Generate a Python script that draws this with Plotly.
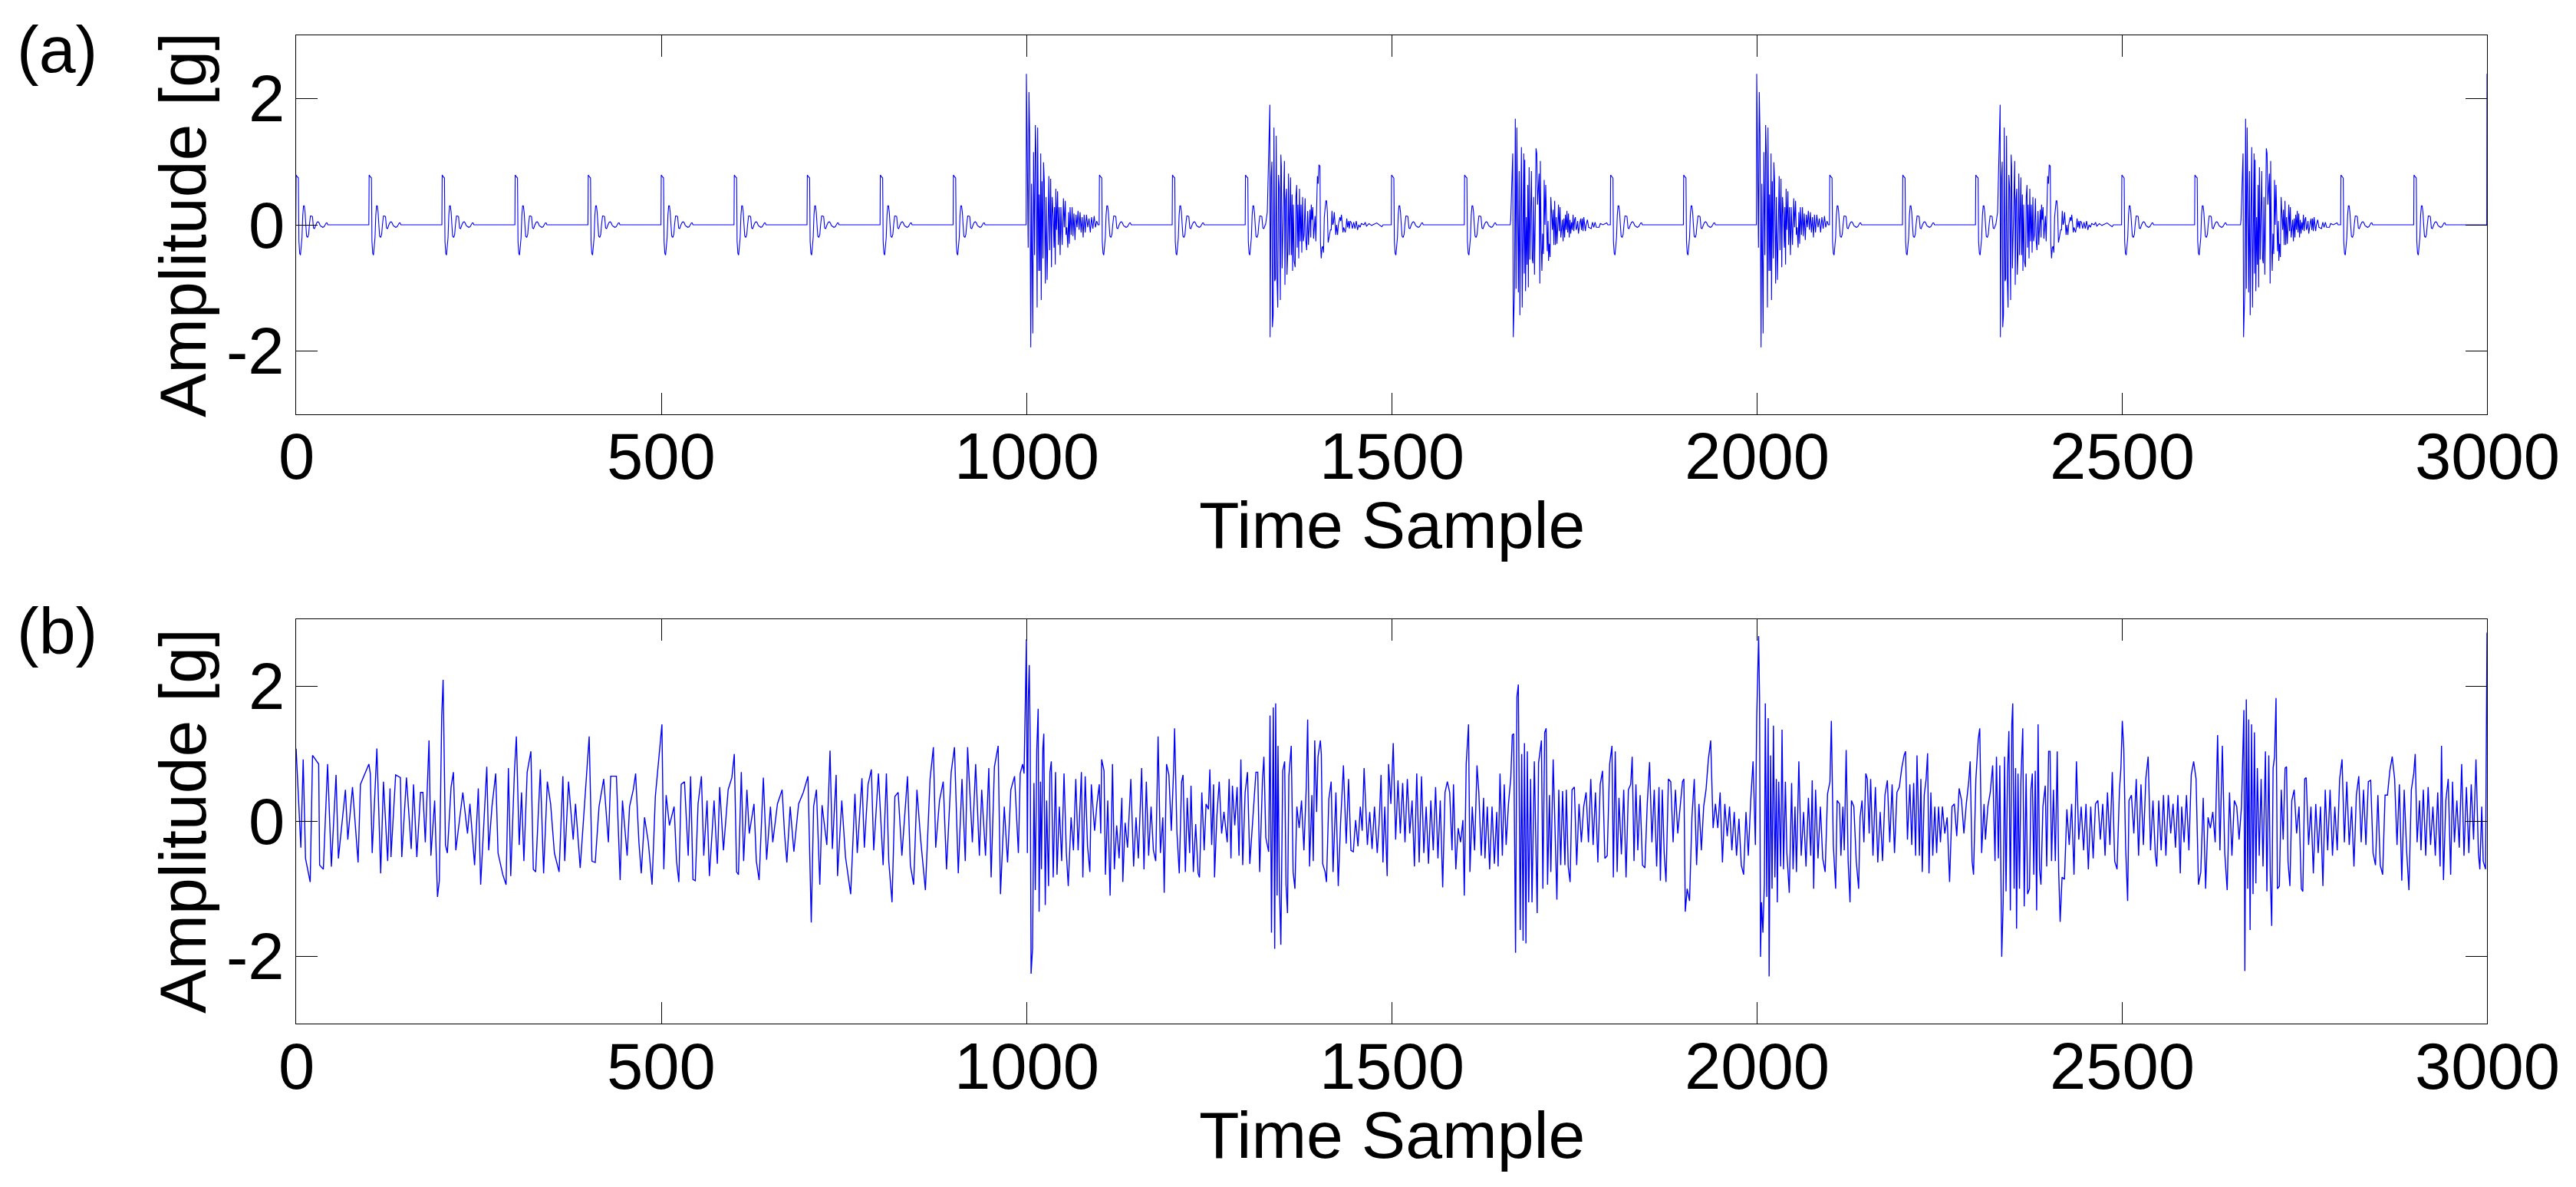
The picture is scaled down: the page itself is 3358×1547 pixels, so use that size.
import plotly.graph_objects as go

# ---------------- Panel (a): clean signal ----------------
# small impulse response (sample offset, amplitude)
impulse = [(-0.4, 0), (0, 0.79), (1.05, 0.77), (2.1, 0.75), (3.15, 0.74), (3.85, -0.26), (4.9, -0.45),
           (5.95, -0.48), (7.0, -0.35), (8.05, -0.2), (9.1, 0.15), (10.15, 0.3), (11.2, 0.3), (12.25, 0.2),
           (13.3, 0.0), (14.35, -0.18), (15.75, -0.2), (17.15, -0.15), (18.2, 0.0), (19.6, 0.14), (21.0, 0.14),
           (22.4, 0.13), (23.8, -0.05), (25.2, -0.06), (27.0, 0.0), (28.7, 0.04), (30.1, 0.05), (31.5, 0.03),
           (32.9, -0.01), (34.7, -0.03), (36.4, -0.04), (38.2, -0.03), (39.9, 0.0), (41.3, 0.03), (42.4, 0.03),
           (43.4, 0.0)]
impulse_times = [0, 100, 200, 300, 400, 500, 600, 700, 800, 900, 1100, 1200, 1300, 1500, 1600,
                 1800, 1900, 2100, 2200, 2300, 2500, 2600, 2800, 2900]

burst_a = [(-0.35, 0), (0, 2.39), (0.7, 1.66), (1.4, 0.28), (2.45, -0.36), (3.5, 2.1), (4.55, 1.41), (5.95, -1.94),
           (7.0, 0.65), (8.75, -1.72), (9.8, 1.15), (11.2, -0.48), (12.25, 1.58), (13.3, 1.09), (14.7, -1.31),
           (15.4, 1.54), (16.8, -0.73), (17.5, 0.48), (18.55, -0.73), (19.6, 1.13), (20.3, -1.19), (21.35, 0.69),
           (22.75, -0.53), (23.45, 0.99), (24.5, 0.69), (25.9, -0.93), (26.95, 0.44), (28.35, -0.87), (30.1, 0.57),
           (30.8, 0.77), (31.85, -0.40), (33.25, 0.73), (34.3, -0.67), (35.35, 0.44), (36.75, 0.12), (37.8, -0.36),
           (38.5, 0.28), (39.55, -0.63), (40.25, 0.57), (41.3, -0.08), (42.7, 0.53), (43.75, -0.32), (44.8, 0.28),
           (46.2, -0.48), (47.25, 0.28), (49.0, -0.32), (50.75, 0.42), (51.8, -0.04), (53.2, 0.38), (54.25, -0.16),
           (55.3, -0.04), (56.7, -0.36), (57.75, 0.2), (58.8, -0.3), (59.85, 0.28), (61.25, -0.16), (62.65, 0.28),
           (63.7, -0.18), (65.1, 0.18), (66.5, -0.24), (67.9, 0.16), (69.3, -0.04), (70.7, 0.22), (72.1, -0.08),
           (73.5, 0.2), (74.9, -0.12), (76.3, 0.12), (77.7, -0.2), (79.1, 0.16), (80.5, -0.12), (82.25, 0.16),
           (84.0, -0.04), (85.75, 0.1), (87.5, -0.12), (89.25, 0.12), (91.0, -0.06), (92.75, 0.14), (94.5, -0.04),
           (96.25, 0.06), (98.0, 0)]

burst_b = [(-5.6, 0.0), (-3.15, 0.2), (-1.75, 0.8), (-0.7, 1.43), (0.35, 1.9), (0.7, -1.78), (2.1, 0.75), (3.15, 1.0),
           (3.85, -1.62), (4.9, -1.43), (5.95, 1.54), (7.0, -0.89), (8.05, -0.85), (9.1, 1.41), (10.15, -0.87),
           (11.2, -1.31), (12.25, 0.79), (13.3, 0.59), (14.0, -1.03), (14.7, -1.19), (15.4, 1.11), (16.1, 0.93),
           (17.15, -0.69), (18.2, -0.06), (19.25, 0.61), (20.3, 1.01), (21.0, -0.95), (22.05, 0.40), (23.1, 0.57),
           (23.8, -0.79), (24.85, -0.44), (25.9, 0.81), (26.95, -0.48), (28.7, 0.75), (29.75, -0.48), (30.8, 0.48),
           (31.5, -0.73), (32.55, 0.32), (33.6, -0.57), (35.0, -0.67), (36.05, 0.44), (37.1, 0.63), (37.8, -0.36),
           (38.85, 0.32), (39.9, -0.53), (40.95, 0.57), (42.0, -0.26), (43.05, 0.32), (44.1, -0.44), (45.15, 0.44),
           (46.2, -0.26), (47.25, -0.16), (48.65, 0.42), (49.7, -0.26), (50.75, -0.40), (52.15, 0.22), (53.2, -0.32),
           (54.25, 0.04), (55.3, 0.24), (56.35, -0.2), (57.05, 0.32), (58.1, 0.08), (59.15, 0.28), (60.2, -0.22),
           (61.25, -0.04), (62.3, 0.14), (63.35, -0.26), (64.4, 0.16), (65.45, 0.77), (66.5, 0.65), (67.55, 0.95),
           (68.95, 0.93), (69.65, -0.28), (70.7, -0.53), (71.75, -0.36), (72.8, -0.34), (73.85, -0.44), (74.9, 0.12),
           (75.95, 0.28), (77.0, 0.38), (78.05, 0.38), (79.1, 0.2), (80.15, -0.28), (81.2, -0.2), (82.25, -0.16),
           (83.3, -0.08), (84.35, -0.08), (85.4, 0.22), (86.45, 0.0), (87.5, 0.04), (88.55, 0.2), (89.6, -0.08),
           (90.65, -0.16), (91.7, 0.0), (93.1, -0.16), (94.15, 0.0), (96.25, 0.12), (97.3, 0.06), (98.35, 0.16),
           (99.4, 0.04), (100.45, -0.12), (101.5, -0.04), (103.6, -0.12), (104.65, -0.04), (105.7, 0.1),
           (106.75, -0.04), (108.15, 0.06), (109.2, -0.06), (110.25, 0.06), (111.65, 0.04), (113.4, -0.06),
           (115.15, 0.04), (116.9, -0.06), (118.65, 0.06), (120.4, -0.08), (122.15, 0.0), (123.9, -0.04),
           (125.65, 0.02), (129.15, 0.0), (130.9, 0.04), (132.65, -0.02), (136.15, 0.02), (139.65, -0.01),
           (146.65, 0.03), (153.65, -0.03), (155.4, 0.0)]

burst_c = [(-4.55, 0.0), (-3.85, 0.08), (-2.8, 0.48), (-1.75, 0.85), (-1.05, 1.13), (-0.35, -1.78), (0.7, -1.25),
           (1.4, -1.01), (2.45, 1.68), (3.5, -1.01), (4.55, 1.54), (5.6, -0.36), (6.65, -1.07), (7.7, 0.85),
           (8.75, -1.43), (9.8, 0.18), (10.85, 1.23), (11.9, -1.31), (12.95, 0.40), (14.0, 1.13), (14.7, -0.77),
           (15.4, 1.03), (16.45, -1.05), (17.5, 0.12), (18.55, -0.63), (19.6, 0.63), (20.3, -0.99), (21.35, 0.91),
           (22.4, -0.55), (23.45, 0.57), (24.5, 0.85), (25.55, -0.53), (26.6, -0.61), (27.65, 0.44), (28.7, -0.79),
           (29.75, 0.08), (30.8, 1.21), (31.85, 1.13), (32.9, 0.32), (33.95, 0.57), (35.0, 0.81), (36.05, -0.93),
           (36.75, 1.01), (37.8, -0.24), (38.85, -0.73), (39.9, -0.14), (40.95, -0.46), (42.0, 0.71), (43.05, 0.0),
           (44.1, 0.63), (45.15, -0.16), (46.2, -0.42), (47.25, 0.06), (47.95, -0.57), (49.0, -0.3), (50.05, -0.51),
           (51.1, 0.44), (52.15, 0.22), (53.2, -0.08), (54.25, 0.24), (55.3, -0.32), (56.35, 0.38), (57.4, -0.32),
           (58.45, 0.12), (59.5, -0.3), (60.55, -0.04), (61.6, 0.32), (62.65, -0.1), (63.7, 0.28), (64.75, -0.2),
           (65.8, -0.04), (66.85, 0.08), (67.9, -0.26), (68.95, 0.1), (70.0, -0.2), (71.05, 0.16), (72.1, -0.08),
           (73.15, 0.22), (74.2, -0.12), (75.25, 0.18), (76.3, -0.2), (77.35, 0.08), (78.4, -0.14), (79.45, 0.04),
           (80.5, -0.08), (81.55, 0.16), (82.6, -0.1), (83.65, 0.08), (84.7, 0.12), (85.75, -0.08), (86.8, -0.04),
           (87.85, 0.06), (88.9, -0.14), (89.95, 0.0), (91.0, 0.04), (92.05, 0.1), (93.1, -0.08), (94.15, 0.1),
           (95.2, -0.1), (96.25, 0.12), (97.3, -0.04), (98.35, -0.1), (99.4, 0.0), (101.15, 0.08), (102.9, -0.04),
           (106.4, -0.06), (108.15, 0.04), (109.9, -0.04), (111.65, 0.04), (113.4, -0.04), (117.15, -0.04),
           (118.9, 0.02), (122.4, 0.0), (127.65, 0.03), (129.15, 0.0)]

burst_a_times = [1000, 2000, 3000]
burst_b_times = [1333, 2333]
burst_c_times = [1667, 2667]

# ---------------- Panel (b): noisy signal (sample, amplitude) ----------------
noisy = [
    (0, 1.08), (6.5, -0.39), (9.7, 0.92), (12.9, -0.55), (19.3, -0.90), (22.5, 0.98), (30.9, 0.85), (32.2, -0.65),
    (37.3, -0.71), (43.1, 0.85), (48.3, -0.67), (54.7, 0.69), (57.9, -0.55), (67.5, 0.47), (70.8, -0.27),
    (77.2, 0.51), (84.9, -0.61), (88.1, 0.55), (99.7, 0.85), (101.6, 0.71), (104.2, -0.47), (110.6, 1.08),
    (115.8, -0.77), (119.6, 0.59), (125.4, -0.59), (128.6, 0.49), (129.9, -0.53), (136.3, 0.69), (142.8, 0.65),
    (144.7, -0.53), (151.1, 0.65), (157.6, -0.41), (160.8, 0.55), (165.3, -0.53), (170.4, 0.43), (173.6, 0.43),
    (176.9, -0.31), (182, 1.2), (184.6, -0.51), (189.7, 0.31), (193.6, -1.12), (196.1, -0.88), (199.4, 1.57),
    (201.3, 2.1), (204.5, -0.35), (207.1, -0.47), (212.2, 0.51), (215.4, 0.73), (218.7, -0.43), (228.3, 0.43),
    (234.7, -0.18), (238, 0.26), (244.4, -0.65), (249.5, 0.49), (252.7, -0.94), (257.2, 0.06), (261.1, 0.81),
    (263.7, -0.43), (268.2, 0.22), (273.3, 0.71), (276.5, -0.47), (283, -0.79), (287.5, -0.94), (290.7, 0.79),
    (293.9, -0.81), (299, 0.75), (301.6, 1.26), (305.5, -0.35), (308.7, 0.43), (311.9, -0.59), (316.4, 0.73),
    (321.5, 1.04), (324.8, -0.71), (328, -0.75), (334.4, 0.77), (338.9, -0.77), (344, 0.59), (348.5, 0.26),
    (353.7, -0.47), (360.1, -0.75), (365.3, 0.67), (367.8, -0.59), (373, 0.59), (379.4, -0.27), (382.6, 0.26),
    (389, -0.69), (395.5, 0.39), (401.3, 1.26), (405.1, -0.59), (409.6, -0.61), (414.8, 0.22), (421.2, 0.63),
    (427.6, -0.31), (430.8, 0.67), (438.6, 0.67), (443.7, -0.87), (446.9, 0.31), (453.3, -0.51), (456.6, 0.22),
    (461.7, 0.47), (464.9, 0.71), (469.4, -0.31), (472.6, -0.77), (477.1, 0.06), (482.3, -0.31), (487.4, -0.94),
    (491.9, 0.37), (495.1, 0.71), (498.4, 1.14), (500.9, 1.44), (503.5, -0.71), (506.7, 0.39), (511.2, -0.06),
    (517.6, 0.22), (520.9, -0.59), (524.1, -0.90), (527.3, 0.55), (531.8, 0.59), (536.9, -0.51), (540.2, 0.67),
    (543.4, -0.86), (546.6, -0.88), (550.4, 0.26), (555, 0.67), (558.2, -0.51), (562.7, 0.31), (565.9, -0.81),
    (572.3, 0.31), (576.8, -0.63), (580, 0.51), (585.2, -0.43), (591.6, 0.47), (596.7, 0.65), (600, 1.0),
    (603.2, -0.75), (605.7, -0.79), (609.6, 0.73), (612.8, -0.59), (617.3, 0.47), (620.5, -0.18), (627, 0.26),
    (630.2, -0.59), (634, -0.87), (639.8, 0.65), (644.3, -0.57), (649.5, 0.22), (652.7, -0.31), (659.1, 0.26),
    (665.5, 0.47), (668.8, -0.18), (672, -0.61), (676.5, 0.22), (681.6, -0.45), (688.1, 0.26), (694.5, 0.43),
    (700.9, 0.67), (703.5, -0.71), (705.4, -1.5), (708.6, 0.22), (712.5, 0.47), (717.1, -0.94), (720.2, 0.24),
    (726.7, -0.35), (731.1, 1.05), (734.3, -0.41), (739.5, 0.69), (741.4, -0.81), (747.2, 0.31), (752.3, -0.53),
    (759.4, -1.08), (765.2, 0.41), (768.4, -0.47), (774.8, 0.64), (778.1, -0.39), (783.2, 0.55), (787.7, 0.77),
    (790.9, -0.43), (797.4, 0.71), (803.8, -0.65), (808.3, 0.71), (811.5, -0.59), (816, -1.2), (819.9, 0.37),
    (824.4, 0.43), (829.5, -0.51), (837.2, 0.67), (841.1, -0.65), (845.6, -0.94), (850.1, 0.47), (855.2, -0.27),
    (861.7, -1.02), (868.1, 0.63), (872.6, 1.1), (875.8, -0.39), (881, 0.31), (886.1, 0.59), (890.6, -0.71),
    (897, 0.73), (901.5, 1.1), (906.7, -0.77), (911.8, 0.63), (916.3, -0.59), (919.5, 1.1), (926, -0.31),
    (930.5, 0.85), (935.6, -0.51), (938.8, 0.47), (944, -0.51), (948.5, 0.79), (951.7, -0.83), (956.2, 0.81),
    (961.3, 1.12), (964.5, -1.08), (969.7, 0.22), (974.2, -0.61), (978.7, 0.47), (983.8, 0.67), (989, -0.47),
    (991.5, 0.71), (994.8, 0.85), (996.8, 0.71),
    (1000, 2.7), (1001.3, -0.47), (1002.6, 1.81), (1003.9, 2.32), (1005.2, 1.2), (1006.4, -2.26), (1008.4, -1.89),
    (1010.3, 0.57), (1012.2, -1.02), (1014.2, 1.06), (1016.1, 1.67), (1017.4, -1.34), (1019.3, 0.59),
    (1020.6, -0.71), (1022.5, 1.08), (1023.8, 1.3), (1025.8, -1.24), (1027.7, 0.31), (1030.3, -0.96),
    (1032.2, 0.73), (1034.1, 0.89), (1036.7, -0.83), (1039.9, 0.73), (1041.9, -0.79), (1045.1, 0.22),
    (1048.3, -0.59), (1051.5, 0.71), (1054.7, -0.47), (1057.3, -0.96), (1061.2, 0.06), (1064.4, -0.43),
    (1067.6, 0.63), (1070.8, -0.43), (1075.3, 0.73), (1077.3, -0.83), (1080.5, 0.67), (1083.7, -0.37),
    (1086.9, -0.75), (1088.9, 0.55), (1093.4, -0.14), (1096.6, 0.26), (1099.8, 0.55), (1101.8, -0.18),
    (1103, 0.92), (1106.3, 0.75), (1108.2, -0.79), (1111.4, 0.31), (1114.6, -1.1), (1117.9, 0.85),
    (1120.4, -0.71), (1123.6, -0.06), (1126.9, -0.55), (1130.7, 0.35), (1132, -0.9), (1135.2, -0.02),
    (1138.5, -0.39), (1143, 0.63), (1146.8, -0.67), (1150.1, 0.06), (1153.3, -0.55), (1157.8, 0.79),
    (1161, -0.71), (1164.2, 0.59), (1167.4, -0.51), (1170.7, 0.22), (1173.9, -0.43), (1177.1, -0.59),
    (1180.3, 1.26), (1183.5, -0.47), (1186.8, 0.06), (1188.7, -1.06), (1191.9, 0.85), (1195.1, 0.69),
    (1198.4, -0.14), (1201.6, 0.77), (1202.9, 1.38), (1206.1, -0.16), (1209.3, -0.77), (1212.5, 0.59),
    (1214.5, 0.69), (1217.7, -0.75), (1220.2, 0.35), (1223.5, -0.47), (1225.4, 0.53), (1228.6, -0.75),
    (1231.8, -0.04), (1235.1, -0.77), (1237, -0.83), (1240.2, 0.43), (1243.4, -0.43), (1246, 0.26),
    (1249.2, 0.18), (1251.2, 0.77), (1253.7, -0.35), (1256.3, 0.55), (1257.6, -0.83), (1260.8, 0.08),
    (1264, 0.59), (1267.3, -0.18), (1270.5, 0.14), (1275, -0.31), (1277.6, 0.63), (1280.1, -0.55),
    (1282.1, 0.53), (1285.3, -0.06), (1288.5, 0.51), (1291.1, -0.51), (1293.7, 0.92), (1296.2, -0.65),
    (1299.5, 0.43), (1302.7, 0.73), (1305.9, -0.63), (1309.1, -0.14), (1312.3, 0.43), (1314.3, 0.73),
    (1316.8, 0.73), (1319.4, -0.75), (1323.3, 0.63), (1325.2, 0.96), (1327.8, -0.24), (1331.7, -0.45),
    (1333.6, 1.57), (1335.6, -1.65), (1338.1, 1.69), (1340, -1.89), (1341.3, 1.75), (1343.3, -1.1),
    (1344.5, 1.12), (1346.5, -1.0), (1348.4, -1.83), (1351, 0.75), (1353.6, 0.89), (1355.5, -0.94),
    (1357.5, -1.36), (1359.4, 0.67), (1362.6, 1.12), (1365.2, -0.75), (1367.7, -1.0), (1370.3, 0.22),
    (1373.5, -0.1), (1376.7, 0.31), (1380, -0.43), (1383.2, 0.51), (1385.1, 1.51), (1387.7, -0.67),
    (1390.9, 0.39), (1392.8, -0.59), (1394.8, 1.2), (1397.4, 0.14), (1399.3, 0.96), (1402.5, 1.2),
    (1403.8, 1.0), (1405.7, -0.63), (1409, -0.75), (1410.9, -0.9), (1414.1, 0.33), (1417.3, 0.59),
    (1419.9, -0.75), (1423.8, 0.43), (1427, -0.96), (1430.2, -0.02), (1434.1, 0.83), (1437.9, -0.33),
    (1441.1, 0.63), (1444.4, -0.43), (1447.6, -0.45), (1450.8, 0.02), (1454, -0.37), (1457.2, 0.22),
    (1459.8, -0.14), (1462.4, 0.79), (1466.9, -0.35), (1470.1, 0.14), (1473.3, -0.41), (1476.6, 0.22),
    (1480.4, -0.47), (1483, -0.02), (1485.6, 0.69), (1488.2, -0.61), (1490.7, 0.22), (1494, -0.81),
    (1495.9, 0.85), (1499.1, 0.26), (1502.3, 1.16), (1505.6, -0.27), (1508.8, 0.61), (1512, -0.18),
    (1515.2, 0.57), (1518.4, -0.31), (1521.6, 0.63), (1524.9, -0.18), (1528.1, 0.31), (1531.3, -0.67),
    (1534.5, 0.71), (1537.8, -0.61), (1541, 0.67), (1544.2, -0.47), (1547.4, 0.22), (1550.6, -0.63),
    (1553.8, 0.31), (1557.1, -0.43), (1560.3, 0.51), (1563.5, -0.55), (1566.7, 0.31), (1570, -0.98),
    (1573.2, 0.43), (1576.4, 0.59), (1579.6, 0.43), (1582.8, -0.43), (1584.8, 0.55), (1588, -0.71),
    (1591.2, -0.1), (1594.5, -0.31), (1597.7, 0.02), (1599.6, -1.1), (1602.2, 0.85), (1604.1, 1.2),
    (1605.4, 1.44), (1607.3, -0.75), (1610.5, 0.22), (1613.7, -0.43), (1617, 0.83), (1619.5, 0.43),
    (1622.8, -0.51), (1626, 0.35), (1627.9, -0.55), (1631.1, 0.22), (1634.3, -0.71), (1637.6, 0.22),
    (1640.8, -0.63), (1644, 0.14), (1645.9, -0.67), (1648.5, 0.71), (1651.7, -0.51), (1654.3, 0.55),
    (1656.9, -0.35), (1660.1, 0.26), (1663.3, 0.65), (1665.3, 1.28), (1667.2, 1.3), (1669.8, -1.95),
    (1671.7, 1.85), (1673.6, 2.03), (1676.2, -1.61), (1678.2, 1.0), (1680.1, -1.77), (1682, 1.16),
    (1684, -1.81), (1685.9, 1.04), (1687.8, -1.2), (1690.4, 0.63), (1692.3, -1.2), (1695.5, 0.89),
    (1697.5, -0.51), (1699.4, -1.36), (1701.3, 0.87), (1703.3, 1.02), (1705.2, 1.2), (1707.2, -1.0),
    (1709.7, 1.32), (1711.7, 1.38), (1713.6, -0.94), (1716.2, 0.39), (1718.1, -0.75), (1721.3, 0.92),
    (1724.5, -0.51), (1726.4, -1.16), (1729, 0.47), (1731.6, -0.65), (1734.2, 0.45), (1737.4, -0.65),
    (1739.3, 0.47), (1741.9, -0.67), (1744.5, -0.9), (1747.1, 0.47), (1750.3, 0.51), (1753.5, -0.65),
    (1756.7, 0.26), (1759.9, -0.31), (1763.1, 0.22), (1766.4, 0.43), (1769.6, -0.31), (1772.8, 0.63),
    (1776, -0.35), (1779.2, 0.43), (1782.5, -0.61), (1785.7, 0.55), (1788.9, 0.75), (1792.1, -0.55),
    (1795.3, -0.51), (1798.6, 0.85), (1801.8, 1.12), (1803.7, -0.83), (1806.3, 1.04), (1808.9, -0.75),
    (1811.4, 0.35), (1814.7, -0.49), (1817.9, 0.47), (1821.1, -0.83), (1824.3, 0.47), (1827.5, 0.55),
    (1829.5, 0.96), (1832, -0.59), (1834.6, 0.55), (1837.2, -0.43), (1840.4, 0.39), (1843.6, -0.65),
    (1846.9, -0.69), (1850.1, 0.26), (1853.3, 0.88), (1856.5, -0.31), (1859.7, 0.47), (1863, -0.67),
    (1866.2, 0.51), (1868.1, -0.88), (1870.7, 0.47), (1873.3, -0.47), (1875.8, -0.9), (1879.1, 0.63),
    (1882.3, 0.59), (1885.5, -0.31), (1888.7, 0.47), (1891.9, -0.18), (1895.2, 0.22), (1898.4, 0.59),
    (1900.3, 0.63), (1902.2, -1.34), (1904.8, -1.0), (1908, -1.18), (1911.3, 0.06), (1914.5, 0.63),
    (1917.7, -0.65), (1920.9, 0.26), (1924.2, -0.43), (1927.4, 0.22), (1930.6, 0.47), (1933.8, 0.92),
    (1937, 1.2), (1940.3, -0.1), (1943.5, 0.26), (1946.7, -0.1), (1949.9, 0.43), (1953.1, -0.61),
    (1956.3, 0.26), (1959.6, -0.22), (1962.8, 0.22), (1966, -0.43), (1969.2, 0.14), (1972.4, -0.51),
    (1975.7, 0.04), (1978.9, -0.65), (1982.1, -0.79), (1985.3, 0.14), (1988.5, -0.51), (1991.8, 0.31),
    (1995, 0.89), (1998.2, -0.35),
    (2000, 1.53), (2001.3, 2.14), (2002.6, 2.75), (2003.9, 1.85), (2005.2, -2.01), (2006.6, -1.2), (2008.5, -1.65),
    (2010.5, -0.92), (2011.8, 1.75), (2013.8, -1.12), (2015.7, 1.53), (2017, -2.3), (2019, 0.98), (2021, -1.0),
    (2022.9, 1.42), (2024.9, -0.83), (2026.9, 0.63), (2028.2, -1.2), (2030.1, 0.59), (2032.8, -0.67),
    (2034.7, 1.36), (2036.7, -0.71), (2039.3, 0.59), (2041.3, -0.47), (2044.6, -1.06), (2047.8, 0.57),
    (2049.8, -0.71), (2052.4, 0.22), (2054.4, -0.75), (2057.7, 0.89), (2060.9, -0.51), (2064.2, 0.14),
    (2067.5, -0.67), (2070.8, 0.35), (2074, -0.51), (2076, 0.61), (2078, -1.0), (2080.6, 0.47), (2083.9, -0.55),
    (2087.2, 0.22), (2090.4, -0.55), (2093.7, -0.75), (2097, 0.41), (2100.3, 0.59), (2102.2, 1.49),
    (2104.9, -0.35), (2108.1, -1.0), (2110.1, 0.31), (2113.4, 0.26), (2115.3, -0.51), (2118, 0.22),
    (2119.9, -0.43), (2122.5, 1.06), (2125.2, -0.59), (2127.8, -1.2), (2129.7, 0.31), (2133, 0.22),
    (2136.3, -0.59), (2139.6, -1.0), (2141.5, 0.06), (2144.2, 0.31), (2146.8, -0.31), (2149.4, 0.71),
    (2151.4, 0.63), (2154, -0.18), (2156, 0.63), (2159.2, -0.51), (2162.5, 0.51), (2165.8, -0.61),
    (2169.1, 0.14), (2172.3, -0.59), (2175.6, 0.39), (2178.9, 0.61), (2182.2, -0.31), (2185.4, 0.55),
    (2188.7, -0.47), (2192, 0.43), (2195.3, 0.51), (2198.6, 0.79), (2201.8, 0.98), (2203.8, 1.04),
    (2206.4, -0.27), (2209.7, 0.55), (2212.3, -0.35), (2214.9, 0.57), (2217.6, -0.51), (2219.5, 0.98),
    (2222.8, -0.51), (2224.8, 0.63), (2226.7, -0.75), (2229.4, 0.39), (2232, 0.63), (2234, 1.01),
    (2235.9, -0.77), (2238.5, 0.43), (2241.1, -0.51), (2243.8, 0.22), (2246.4, -0.47), (2249, 0.22),
    (2251.6, -0.31), (2254.3, 0.22), (2257.5, -0.18), (2260.8, 0.06), (2264.1, -0.9), (2267.4, 0.22),
    (2270.6, 0.26), (2273.9, -0.22), (2277.2, 0.49), (2280.5, 0.31), (2283.7, -0.18), (2287, 0.26),
    (2290.3, 0.59), (2292.3, 0.89), (2294.9, -0.59), (2296.9, -0.79), (2300.1, 0.63), (2303.4, 1.22),
    (2305.4, 1.38), (2308, -0.47), (2311.3, 0.26), (2313.2, -0.27), (2316.5, 0.22), (2319.8, 0.43),
    (2323.1, 0.83), (2326.3, -0.59), (2328.3, 0.96), (2330.9, -0.55), (2332.9, 0.83), (2335.5, -2.01),
    (2337.5, -1.2), (2339.4, 0.96), (2341.4, -1.04), (2343.4, 0.71), (2345.3, 1.34), (2347.3, -1.32),
    (2349.3, 1.44), (2350.6, 1.75), (2352.5, -1.0), (2354.5, 0.79), (2355.8, -1.59), (2357.8, 0.71),
    (2359.8, -1.0), (2361.7, 0.59), (2364.3, 1.38), (2366.3, -1.26), (2368.9, 0.71), (2370.9, -1.08),
    (2373.5, -1.0), (2375.5, 0.47), (2377.4, 0.71), (2379.4, -0.79), (2381.4, 0.75), (2383.3, -1.32),
    (2385.3, 1.44), (2387.3, -0.71), (2389.2, -0.94), (2391.9, 0.22), (2395.1, 0.53), (2397.1, -0.67),
    (2399.7, 1.04), (2401.7, 1.04), (2403.7, -0.59), (2406.3, 0.47), (2408.9, -0.59), (2411.5, 1.04),
    (2413.5, -0.75), (2415.5, -1.49), (2418.1, -0.83), (2421.4, -0.86), (2424.7, 0.18), (2427.9, -0.35),
    (2431.2, 0.26), (2434.5, -0.79), (2437.8, 0.89), (2441, -0.27), (2444.3, 0.22), (2447.6, -0.43),
    (2450.9, 0.26), (2454.1, -0.71), (2457.4, 0.22), (2460.7, -0.55), (2463.9, 0.26), (2467.2, 0.31),
    (2470.5, -0.27), (2473.8, 0.26), (2477, -0.51), (2480.3, 0.43), (2483.6, -0.35), (2486.9, 0.73),
    (2490.2, -0.59), (2493.4, -0.71), (2496.7, 0.47), (2498.7, 0.79), (2500.6, 1.49), (2502.6, 1.08),
    (2505.2, -0.39), (2507.9, -1.18), (2509.8, 0.31), (2513.1, 0.39), (2516.4, -0.18), (2519.7, 0.63),
    (2522.9, -0.51), (2526.2, 0.55), (2529.5, -0.35), (2532.8, 0.63), (2536, 0.96), (2539.3, -0.43),
    (2542.6, 0.31), (2545.9, -0.51), (2547.8, -0.67), (2550.5, 0.31), (2553.8, -0.43), (2557, 0.39),
    (2560.3, -0.51), (2563.6, 0.39), (2566.9, -0.18), (2570.1, 0.26), (2573.4, -0.39), (2576.7, 0.39),
    (2580, -0.77), (2581.9, 0.22), (2585.2, -0.31), (2588.5, 0.39), (2591.8, -0.43), (2595, 0.69),
    (2598.3, 0.89), (2601.6, 0.63), (2604.9, -0.94), (2608.1, -0.75), (2611.4, 0.35), (2614.7, -1.0),
    (2618, 0.06), (2621.2, -0.1), (2624.5, 0.14), (2627.8, -0.31), (2631.1, 1.28), (2634.3, -0.43),
    (2637.6, 1.12), (2640.9, -0.47), (2644.2, -1.02), (2647.4, 0.43), (2650.7, -0.51), (2654, 0.31),
    (2657.3, 0.22), (2660.5, -0.27), (2663.8, 0.22), (2665.8, 1.08), (2667.1, 1.65), (2668.4, -2.22),
    (2670.4, 1.81), (2672.4, -1.0), (2673.7, 1.51), (2675.6, -1.61), (2677.6, 1.44), (2679.6, -1.08),
    (2681.5, 1.32), (2683.5, -0.92), (2685.5, 0.79), (2688.1, -0.51), (2690.7, 0.63), (2693.3, -0.67),
    (2696.6, 1.04), (2698.6, -1.04), (2701.2, 0.98), (2703.2, -0.79), (2705.2, -1.55), (2707.1, 0.79),
    (2709.1, 0.96), (2711.1, 1.83), (2713, -1.0), (2715.7, -0.96), (2718.3, 0.47), (2720.9, -0.27),
    (2723.5, 0.79), (2725.5, 0.81), (2727.5, -0.59), (2730.1, -0.96), (2732.7, 0.31), (2736, 0.47),
    (2739.3, -0.18), (2742.6, 0.22), (2745.8, -1.0), (2747.8, -1.04), (2750.4, 0.63), (2752.4, 0.65),
    (2755.7, -0.35), (2758.9, 0.22), (2762.2, -0.77), (2765.5, 0.26), (2768.8, -0.47), (2772, 0.22),
    (2775.3, -0.96), (2778.5, 0.47), (2781.8, -0.43), (2785.1, 0.47), (2788.4, -0.51), (2791.6, 0.22),
    (2794.9, -0.43), (2798.2, 0.63), (2801.5, 0.92), (2804.7, -0.31), (2808, 0.59), (2811.3, -0.35),
    (2814.6, 0.22), (2817.8, -0.67), (2821.1, 0.39), (2824.4, 0.67), (2827.7, -0.31), (2830.9, 0.47),
    (2834.2, -0.35), (2837.5, 0.59), (2840.7, 0.61), (2844, -0.47), (2847.3, -0.65), (2850.6, 0.39),
    (2853.8, -0.65), (2857.1, -0.79), (2860.4, 0.39), (2863.7, 0.39), (2866.9, 0.75), (2870.2, 0.96),
    (2873.5, 0.63), (2876.8, -0.35), (2880, 0.55), (2883.3, -0.88), (2886.6, 0.47), (2889.9, -0.43),
    (2893.1, -1.02), (2896.4, 0.47), (2899.7, 0.71), (2901.7, 1.0), (2904.3, -0.31), (2907.6, 0.31),
    (2909.6, -0.43), (2912.8, 0.47), (2916.1, -0.51), (2919.4, 0.51), (2922.7, -0.35), (2925.9, 0.22),
    (2929.2, -0.51), (2932.5, 0.43), (2935.8, -0.67), (2937.7, 1.12), (2940.4, -0.87), (2943.6, 0.31),
    (2946.9, 0.63), (2950.2, -0.79), (2952.8, 0.59), (2955.4, -0.31), (2958.7, 0.31), (2962, -0.39),
    (2965.3, 0.85), (2968.5, -0.51), (2971.8, 0.51), (2975.1, -0.47), (2978.4, 0.55), (2981.6, -0.27),
    (2984.9, 0.92), (2988.2, -0.47), (2990.2, -0.71), (2992.8, 0.22), (2994.8, -0.59), (2998, -0.71),
    (3000, 2.8),
]

x_ticks = [0, 500, 1000, 1500, 2000, 2500, 3000]
y_ticks = [-2, 0, 2]
y_tick_text = ["-2", "0", "2"]
x_title = "Time Sample"
y_title = "Amplitude [g]"
panel_labels = ["(a)", "(b)"]


def build_clean():
    bursts = []
    for tpl, times in ((burst_a, burst_a_times), (burst_b, burst_b_times), (burst_c, burst_c_times)):
        for t0 in times:
            bursts.append([(t0 + o, v) for o, v in tpl])
    spans = [(b[0][0], b[-1][0]) for b in bursts]
    pts = []
    for b in bursts:
        pts.extend(b)
    for t0 in impulse_times:
        for o, v in impulse:
            t = t0 + o
            if any(s <= t <= e for s, e in spans):
                continue
            pts.append((t, v))
    pts.sort()
    return [p[0] for p in pts], [p[1] for p in pts]


ax_t, ax_v = build_clean()
bx_t = [p[0] for p in noisy]
bx_v = [p[1] for p in noisy]

FONT = "Liberation Sans, Arial, Helvetica, sans-serif"
BLUE = "#0000ff"
W, H = 3358, 1547
L, R, T, B = 386, 116, 46, 213
PH = H - T - B
PW = W - L - R
TICK_SIZE = 85
TITLE_SIZE = 86


def py(y_px):
    return (H - B - y_px) / PH


def px(x_px):
    return (x_px - L) / PW


fig = go.Figure()
fig.add_trace(go.Scatter(x=ax_t, y=ax_v, mode="lines", line=dict(color=BLUE, width=1.1),
                         xaxis="x", yaxis="y", showlegend=False, hoverinfo="skip"))
fig.add_trace(go.Scatter(x=bx_t, y=bx_v, mode="lines", line=dict(color=BLUE, width=1.4),
                         xaxis="x2", yaxis="y2", showlegend=False, hoverinfo="skip"))

xcommon = dict(range=[0, 3000], tickmode="array", tickvals=x_ticks, ticks="inside", ticklen=28,
               tickwidth=1, tickcolor="black", showline=True, linecolor="black", linewidth=1,
               mirror="ticks", showgrid=False, zeroline=False, showticklabels=False)
ycommon = dict(range=[-3, 3], tickmode="array", tickvals=y_ticks, ticks="inside",
               ticklen=28, tickwidth=1, tickcolor="black", showline=True, linecolor="black", linewidth=1,
               mirror="ticks", showgrid=False, zeroline=False, showticklabels=False)

fig.update_layout(
    width=W, height=H,
    margin=dict(l=L, r=R, t=T, b=B, pad=0),
    paper_bgcolor="white", plot_bgcolor="white",
    font=dict(family=FONT, color="black"),
    xaxis=dict(domain=[0, 1], anchor="y", **xcommon),
    yaxis=dict(domain=[py(540), 1], anchor="x", **ycommon),
    xaxis2=dict(domain=[0, 1], anchor="y2", **xcommon),
    yaxis2=dict(domain=[0, py(807)], anchor="x2", **ycommon),
)

ann = []
tickfont = dict(family=FONT, size=TICK_SIZE, color="black")
titlefont = dict(family=FONT, size=TITLE_SIZE, color="black")
# tick labels (x) below each panel
for xref, ylab in (("x", 594), ("x2", 1389)):
    for v in x_ticks:
        ann.append(dict(text=str(v), x=v, y=py(ylab), xref=xref, yref="paper", showarrow=False,
                        xanchor="center", yanchor="middle", font=tickfont))
# tick labels (y) left of each panel
for yref in ("y", "y2"):
    for v, s in zip(y_ticks, y_tick_text):
        ann.append(dict(text=s, x=px(373), y=v, xref="paper", yref=yref, showarrow=False,
                        xanchor="right", yanchor="middle", font=tickfont))
# y titles
for yc in (293, 1070):
    ann.append(dict(text=y_title, x=px(238), y=py(yc), xref="paper", yref="paper", textangle=-90,
                    showarrow=False, xanchor="center", yanchor="middle", font=titlefont))
# x titles
for yc in (684, 1479):
    ann.append(dict(text=x_title, x=0.5, y=py(yc), xref="paper", yref="paper",
                    showarrow=False, xanchor="center", yanchor="middle", font=titlefont))
# panel labels
for lab, yc in zip(panel_labels, (64, 822)):
    ann.append(dict(text=lab, x=px(74), y=py(yc), xref="paper", yref="paper",
                    showarrow=False, xanchor="center", yanchor="middle", font=titlefont))
fig.update_layout(annotations=ann)

fig.write_html("out.html", config={"displayModeBar": False},
               post_script="document.body.style.margin='0';document.body.style.overflow='hidden';")
